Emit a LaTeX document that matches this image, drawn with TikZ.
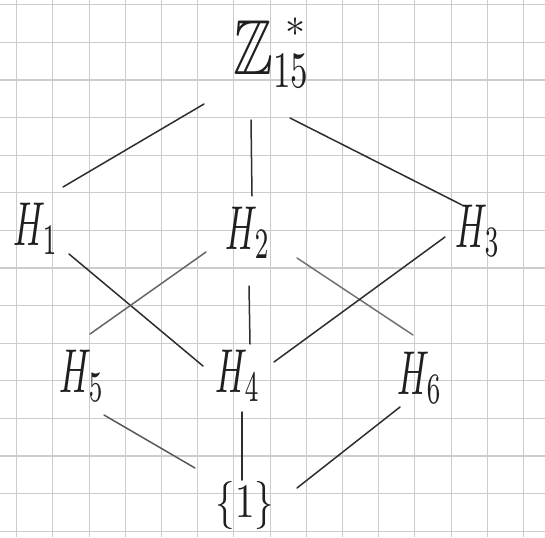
\documentclass[tikz,border=0pt]{standalone}
\usepackage{amssymb}
\newcommand{\hlab}[1]{\scalebox{3.5}[6.2]{$#1$}}
\begin{document}
\begin{tikzpicture}[x=1pt,y=-1pt,
  gridline/.style={draw=black!20,line width=1.1pt},
  edge/.style={draw=black!82,line width=1.5pt,line cap=round},
  lab/.style={text=black!88,inner sep=0pt,font=\normalsize}]
\useasboundingbox[fill=white] (0,0) rectangle (545,537);
\foreach \k in {0,...,14} \draw[gridline] ({16.7+36.2*\k},0) -- ({16.7+36.2*\k},537);
\foreach \k in {0,...,14} \draw[gridline] (0,{4.8+37.6*\k}) -- (545,{4.8+37.6*\k});
% nodes
\node[lab,anchor=base west] (Z) at (233,75) {\scalebox{6}[7.8]{$\mathbb{Z}$}\rlap{\raisebox{38pt}{\hspace{12pt}\scalebox{4}{$\ast$}}}\raisebox{-13pt}{\scalebox{3.5}[5.1]{$15$}}};
\node[lab] (H1) at (36,229) {\hlab{H_1}};
\node[lab] (H2) at (248,233) {\hlab{H_2}};
\node[lab] (H3) at (478,231) {\hlab{H_3}};
\node[lab] (H5) at (82,376) {\hlab{H_5}};
\node[lab] (H4) at (238,376) {\hlab{H_4}};
\node[lab] (H6) at (420,378) {\hlab{H_6}};
\node[lab] (E) at (245,505) {\scalebox{3.9}[4.8]{$\{1\}$}};
% edge endpoints
\coordinate (z1) at (204,104); \coordinate (h1a) at (63,187);
\coordinate (z2) at (251,120); \coordinate (h2a) at (252,196);
\coordinate (z3) at (290,118); \coordinate (h3a) at (462,205);
\coordinate (h1b) at (69,254); \coordinate (h4a) at (203,366);
\coordinate (h2b) at (206,252); \coordinate (h5a) at (90,334);
\coordinate (h2c) at (249,286); \coordinate (h4b) at (250,344);
\coordinate (h2d) at (297,258); \coordinate (h6a) at (413,335);
\coordinate (h3b) at (445,237); \coordinate (h4c) at (274,362);
\coordinate (h5b) at (104,415); \coordinate (ea) at (195,468);
\coordinate (h4d) at (242,412); \coordinate (eb) at (242,480);
\coordinate (h6b) at (400,407); \coordinate (ec) at (297,488);
\draw[edge] (z1) -- (h1a);
\draw[edge] (z2) -- (h2a);
\draw[edge] (z3) -- (h3a);
\draw[edge] (h1b) -- (h4a);
\draw[edge,draw=black!60] (h2b) -- (h5a);
\draw[edge] (h2c) -- (h4b);
\draw[edge,draw=black!55] (h2d) -- (h6a);
\draw[edge] (h3b) -- (h4c);
\draw[edge,draw=black!65] (h5b) -- (ea);
\draw[edge] (h4d) -- (eb);
\draw[edge] (h6b) -- (ec);
\end{tikzpicture}
\end{document}
